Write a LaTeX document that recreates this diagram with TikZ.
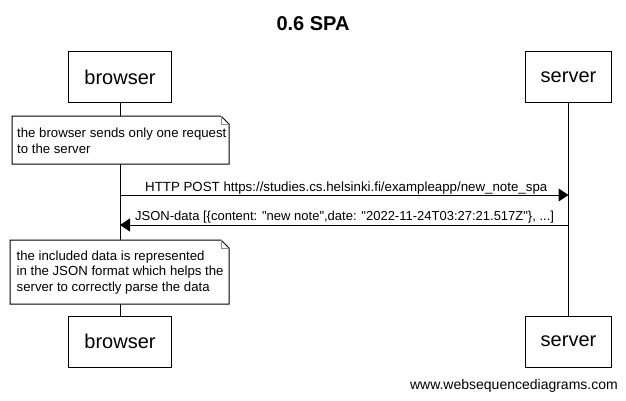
\documentclass[tikz,border=0pt]{standalone}
\usepackage{fontspec}
\setmainfont{Liberation Sans}
\usetikzlibrary{arrows.meta,calc}
\begin{document}
\begin{tikzpicture}[x=1pt,y=-1pt,
  actor/.style={draw, line width=1pt, fill=white, minimum height=51pt, inner xsep=15.5pt, font=\fontsize{20}{24}\selectfont},
  notetext/.style={anchor=west, inner sep=0pt, align=left, font=\fontsize{13.2}{15.9}\selectfont},
  noteshape/.style={line width=1pt, fill=white},
  notefold/.style={line width=0.8pt, draw=black!45},
  msg/.style={line width=1pt, -{Triangle[length=10pt,width=13pt]}},
  msglabel/.style={inner sep=0pt, font=\fontsize{13.2}{15.9}\selectfont},
  lifeline/.style={line width=1pt}]
\useasboundingbox (0,0) rectangle (626,400);
\fill[white] (0,0) rectangle (626,400);

\node[font=\bfseries\fontsize{20}{24}\selectfont] (title) at (313,24) {0.6 SPA};

\node[actor] (bt) at (120,77) {browser};
\node[actor] (st) at (568.5,77) {server};
\node[actor] (bb) at (120,341.5) {browser};
\node[actor] (sb) at (568.5,341.5) {server};

\draw[lifeline] (bt.south) -- (bb.north);
\draw[lifeline] (st.south) -- (sb.north);

% note 1
\coordinate (n1nw) at (12,116);
\coordinate (n1se) at (229,164);
\draw[noteshape] (n1nw) -- ($(n1nw -| n1se)+(-8,0)$) -- ($(n1nw -| n1se)+(0,8)$) -- (n1se) -- (n1se -| n1nw) -- cycle;
\draw[notefold] ($(n1nw -| n1se)+(-8,0)$) -- ($(n1nw -| n1se)+(-8,8)$) -- ($(n1nw -| n1se)+(0,8)$);
\node[notetext] (t1) at (17,141) {the browser sends only one request\\to the server};

% messages
\coordinate (m1s) at (bt.south |- 0,195);
\coordinate (m1e) at (st.south |- 0,195);
\draw[msg] (m1s) -- (m1e);
\node[msglabel, anchor=base west, font=\fontsize{13.3}{15.9}\selectfont] (l1) at (145,191.5) {HTTP POST https://studies.cs.helsinki.fi/exampleapp/new\_note\_spa};

\coordinate (m2s) at (st.south |- 0,225);
\coordinate (m2e) at (bt.south |- 0,225);
\draw[msg] (m2s) -- (m2e);
\node[msglabel, anchor=base west, font=\fontsize{13}{15.9}\selectfont] (l2) at (135,220.5) {JSON-data [\{content: \textquotedbl new note\textquotedbl,date: \textquotedbl 2022-11-24T03:27:21.517Z\textquotedbl\}, ...]};

% note 2
\coordinate (n2nw) at (10,240);
\coordinate (n2se) at (229,304);
\draw[noteshape] (n2nw) -- ($(n2nw -| n2se)+(-8,0)$) -- ($(n2nw -| n2se)+(0,8)$) -- (n2se) -- (n2se -| n2nw) -- cycle;
\draw[notefold] ($(n2nw -| n2se)+(-8,0)$) -- ($(n2nw -| n2se)+(-8,8)$) -- ($(n2nw -| n2se)+(0,8)$);
\node[notetext] (t2) at (16.5,272.5) {the included data is represented\\in the JSON format which helps the\\server to correctly parse the data};

\node[font=\fontsize{14}{17}\selectfont, anchor=base east, inner sep=0pt] (wsd) at (618,389) {www.websequencediagrams.com};
\end{tikzpicture}
\end{document}
